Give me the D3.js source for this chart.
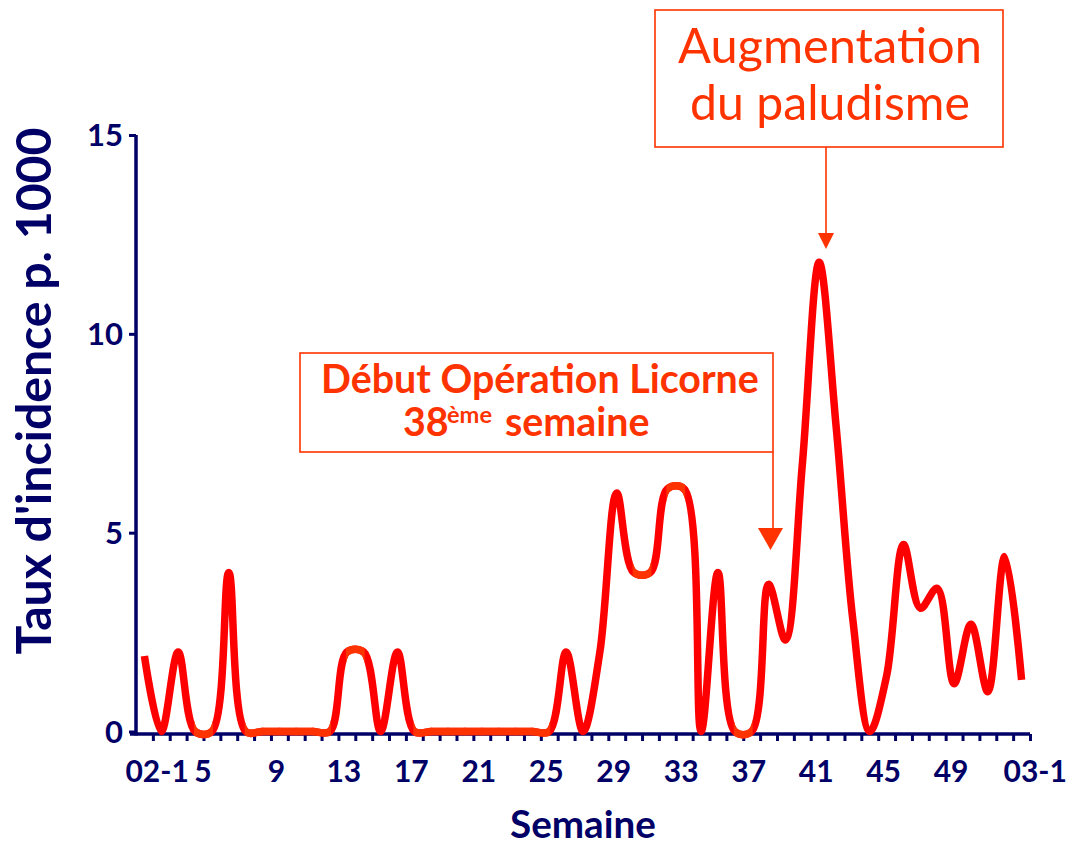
<!DOCTYPE html>
<html><head><meta charset="utf-8">
<script src="https://cdn.jsdelivr.net/npm/d3@7"></script>
<style>body{margin:0;background:#fff} svg{display:block}</style>
</head><body>
<svg id="c" width="1080" height="848"></svg>
<script>
// ---- data ----
const weeks = ["02-1","2","3","4","5","6","7","8","9","10","11","12","13","14","15","16","17","18","19","20",
  "21","22","23","24","25","26","27","28","29","30","31","32","33","34","35","36","37","38","39","40",
  "41","42","43","44","45","46","47","48","49","50","51","52","03-1"];
const incidence = [1.9,0,2.0,0,0,4.0,0,0,0,0,0,0,2.0,2.0,0,2.0,0,0,0,0,
  0,0,0,0,0,2.0,0,2.0,6.0,4.0,4.0,6.1,6.1,0,4.0,0,0,3.7,2.3,6.7,
  11.8,7.7,2.8,0,1.4,4.7,3.1,3.6,1.2,2.7,1.0,4.4,1.3];
const xTickLabels = ["02-1","5","9","13","17","21","25","29","33","37","41","45","49","03-1"];
const yTicks = [0,5,10,15];
const yTitle = "Taux d'incidence p. 1000";
const xTitle = "Semaine";
const note1 = ["Début Opération Licorne","38","ème","semaine"];
const note2 = ["Augmentation","du paludisme"];

// ---- styles ----
const navy = "#000066", red = "#FF0000", orange = "#FF3300";
const font = "'Comic Sans MS', Lato, 'Open Sans', sans-serif";

const svg = d3.select("#c");
const x = d3.scaleLinear().domain([-0.5, weeks.length - 0.5]).range([136, 1030]);
const y = d3.scaleLinear().domain([0, 15]).range([731.5, 135]);

function fit(sel, w) {
  const L = sel.node().getComputedTextLength();
  sel.attr("font-size", parseFloat(sel.attr("font-size")) * w / L);
  return sel;
}

// ---- axes ----
const xAxis = d3.axisBottom(x)
  .tickValues(d3.range(weeks.length).map(i => i + 0.5))
  .tickSize(7).tickSizeOuter(0).tickFormat("");
const gx = svg.append("g").attr("transform", `translate(0,${y(0) + 2.5})`).call(xAxis);
gx.select(".domain").attr("stroke", navy).attr("stroke-width", 3.5).attr("d", `M${x.range()[0]-6},0H${x.range()[1]}`);
gx.selectAll(".tick line").attr("stroke", navy).attr("stroke-width", 3);

const yAxis = d3.axisLeft(y).tickValues(yTicks).tickSize(7).tickSizeOuter(0).tickFormat("");
const gy = svg.append("g").attr("transform", `translate(${x.range()[0]},0)`).call(yAxis);
gy.select(".domain").attr("stroke", navy).attr("stroke-width", 3.5).attr("d", `M0,${y(0)+4}V${y(15)}`);
gy.selectAll(".tick line").attr("stroke", navy).attr("stroke-width", 3);

// y tick labels
svg.append("g").selectAll("text").data(yTicks).join("text")
  .attr("x", 123).attr("y", d => y(d)).attr("dy", "0.36em")
  .attr("text-anchor", "end").attr("font-family", font).attr("font-weight", "bold")
  .attr("font-size", 31).attr("fill", navy).text(d => d);

// x tick labels
svg.append("g").selectAll("text").data(xTickLabels).join("text")
  .attr("x", d => {
    const i = weeks.indexOf(d);
    if (d === "02-1") return x(i) - 19;
    if (d === "03-1") return x(i) - 18;
    if (d === "5") return x(i) - 9;
    return x(i) - 3;
  })
  .attr("y", 782)
  .attr("text-anchor", d => d.includes("-") ? "start" : "middle")
  .attr("font-family", font).attr("font-weight", "bold").attr("font-size", 30)
  .attr("fill", navy).text(d => d);

// titles
fit(svg.append("text").attr("transform", "translate(51,391) rotate(-90)")
  .attr("text-anchor", "middle").attr("font-family", font).attr("font-weight", "bold")
  .attr("font-size", 40).attr("fill", navy).text(yTitle), 527);
fit(svg.append("text").attr("x", 510).attr("y", 838)
  .attr("font-family", font).attr("font-weight", "bold")
  .attr("font-size", 32).attr("fill", navy).text(xTitle), 146);

// ---- line ----
const line = d3.line().x((d, i) => x(i)).y(d => y(d)).curve(d3.curveCatmullRom.alpha(0.5));
const pathD = line(incidence);
svg.append("path").attr("d", pathD).attr("fill", "none").attr("stroke", red)
  .attr("stroke-width", 7.5).attr("stroke-linejoin", "round");

const defs = svg.append("defs");
incidence.forEach((v, i) => {
  if (i < incidence.length - 1 && v === incidence[i + 1]) {
    const id = "seg" + i;
    defs.append("clipPath").attr("id", id).append("rect")
      .attr("x", x(i) - 1).attr("y", 0).attr("width", x(i + 1) - x(i) + 2).attr("height", 848);
    svg.append("path").attr("d", pathD).attr("fill", "none").attr("stroke", orange)
      .attr("stroke-width", 7.5).attr("clip-path", `url(#${id})`);
  }
});

// ---- annotation 1 ----
svg.append("rect").attr("x", 300).attr("y", 353).attr("width", 473).attr("height", 99)
  .attr("fill", "none").attr("stroke", orange).attr("stroke-width", 1.6);
svg.append("line").attr("x1", 773).attr("y1", 452).attr("x2", 773).attr("y2", 530)
  .attr("stroke", orange).attr("stroke-width", 1.6);
svg.append("path").attr("d", "M758,528L783,528L770.5,550Z").attr("fill", orange);

const t1 = fit(svg.append("text").attr("x", 321).attr("y", 393)
  .attr("font-family", font).attr("font-weight", "bold").attr("font-size", 30)
  .attr("fill", orange).text(note1[0]), 438);
const fs1 = parseFloat(t1.attr("font-size"));
const t2 = svg.append("text").attr("y", 436)
  .attr("font-family", font).attr("font-weight", "bold").attr("font-size", fs1)
  .attr("fill", orange);
t2.append("tspan").attr("x", 403).text(note1[1]);
t2.append("tspan").attr("x", 447).attr("y", 423).attr("font-size", fs1 * 0.6).text(note1[2]);
t2.append("tspan").attr("x", 505).attr("y", 436).text(note1[3]);

// ---- annotation 2 ----
svg.append("rect").attr("x", 655).attr("y", 10).attr("width", 348).attr("height", 137)
  .attr("fill", "none").attr("stroke", orange).attr("stroke-width", 1.6);
svg.append("line").attr("x1", 826).attr("y1", 147).attr("x2", 826).attr("y2", 235)
  .attr("stroke", orange).attr("stroke-width", 1.6);
svg.append("path").attr("d", "M818,233L834,233L826,249Z").attr("fill", orange);
fit(svg.append("text").attr("x", 678).attr("y", 63)
  .attr("font-family", font).attr("font-size", 40)
  .attr("fill", orange).text(note2[0]), 304);
fit(svg.append("text").attr("x", 690).attr("y", 120)
  .attr("font-family", font).attr("font-size", 40)
  .attr("fill", orange).text(note2[1]), 280);
</script>
</body></html>
